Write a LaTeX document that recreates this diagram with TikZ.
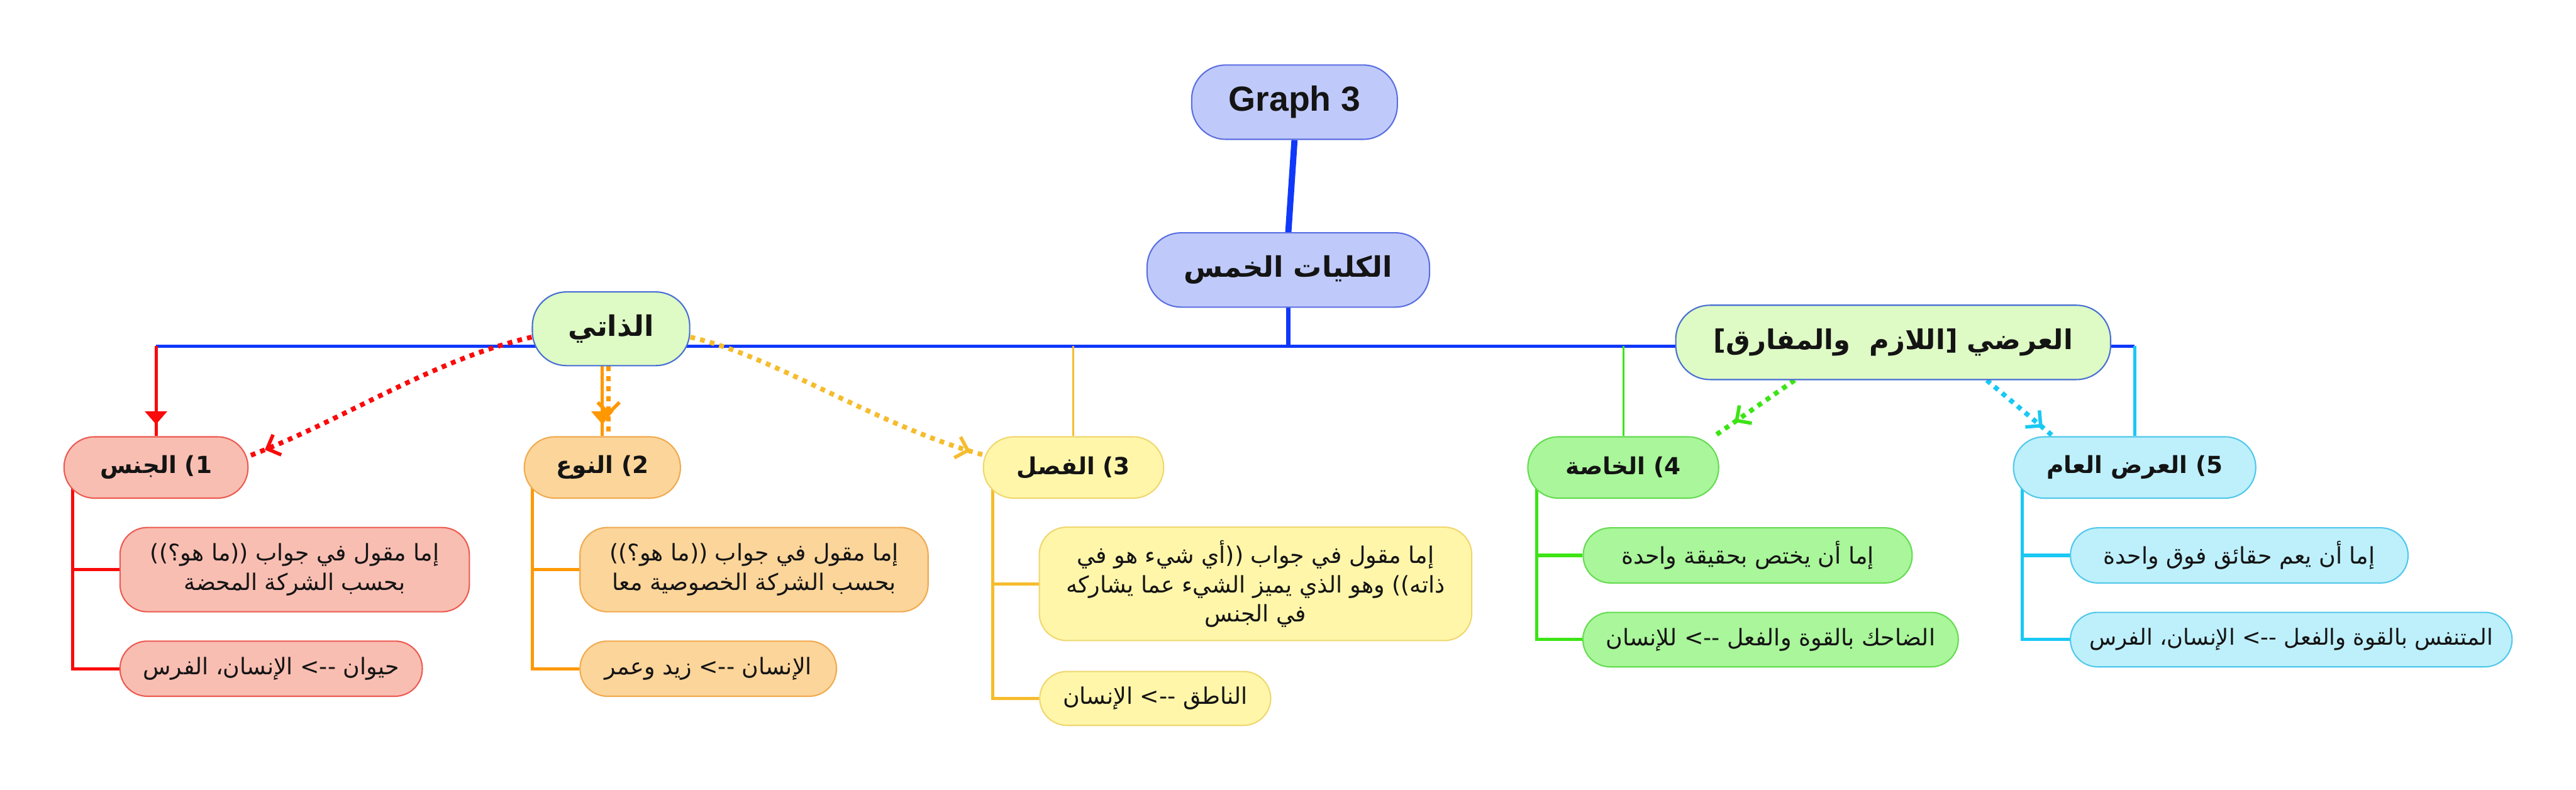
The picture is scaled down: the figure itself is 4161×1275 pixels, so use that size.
\documentclass[tikz,border=0pt]{standalone}
\usepackage{fontspec}
\setmainfont{DejaVu Sans}
\newfontfamily\arabicfont[Script=Arabic]{DejaVu Sans}
\newfontfamily\graphfont{Liberation Sans}
\TeXXeTstate=1
\usetikzlibrary{arrows.meta,backgrounds,calc,decorations.markings}
\newcommand\AR[1]{{\arabicfont\beginR #1\endR}}
\definecolor{busblue}{RGB}{16,56,250}
\definecolor{topfill}{RGB}{192,202,250}
\definecolor{topdraw}{RGB}{90,110,225}
\definecolor{midfill}{RGB}{222,250,197}
\definecolor{middraw}{RGB}{70,110,210}
\definecolor{redline}{RGB}{250,10,10}
\definecolor{redfill}{RGB}{249,190,178}
\definecolor{reddraw}{RGB}{236,90,80}
\definecolor{orgline}{RGB}{255,152,0}
\definecolor{orgfill}{RGB}{252,213,154}
\definecolor{orgdraw}{RGB}{240,170,80}
\definecolor{yelline}{RGB}{246,188,45}
\definecolor{yelfill}{RGB}{255,246,170}
\definecolor{yeldraw}{RGB}{240,215,110}
\definecolor{grnline}{RGB}{60,228,20}
\definecolor{grnfill}{RGB}{170,246,155}
\definecolor{grndraw}{RGB}{100,220,80}
\definecolor{cyaline}{RGB}{25,200,245}
\definecolor{cyafill}{RGB}{190,240,252}
\definecolor{cyadraw}{RGB}{80,200,235}
\begin{document}
\begin{tikzpicture}[x=0.01cm,y=-0.01cm,
  every node/.style={inner sep=0pt, align=center, text=black!92},
  topnode/.style={fill=topfill, draw=topdraw, line width=0.6pt, rounded corners=0.55cm,
    font=\fontsize{13}{16}\selectfont\bfseries},
  midnode/.style={fill=midfill, draw=middraw, line width=0.6pt, rounded corners=0.55cm,
    font=\fontsize{13}{16}\selectfont\bfseries},
  catnode/.style={line width=0.6pt, rounded corners=0.49cm, minimum height=0.99cm,
    font=\fontsize{10.8}{13}\selectfont\bfseries},
  kidnode/.style={line width=0.6pt, rounded corners=0.44cm,
    font=\fontsize{10.5}{13.4}\selectfont},
  busline/.style={draw=busblue, line width=1.45pt},
  branchline/.style={line width=1.45pt},
  droparrow/.style={postaction={decorate}, decoration={markings,
    mark=at position -0.19cm with {\arrow{Triangle[length=6pt,width=10pt]}}}},
  dotarrow/.style={line width=2.2pt, dash pattern=on 2.2pt off 2.4pt,
    postaction={decorate}, decoration={markings,
    mark=at position #1 with {\arrow[solid,line width=1.6pt]{Straight Barb[length=5pt,width=10pt]}}}}
]
\useasboundingbox (0,0) rectangle (4161,1275);

% top nodes
\node[topnode, minimum width=3.32cm, minimum height=1.2cm] (g3) at (2091,165) {\graphfont\bfseries\fontsize{16}{19}\selectfont Graph 3};
\node[topnode, minimum width=4.56cm, minimum height=1.2cm] (kul) at (2081,436) {\AR{الكليات الخمس}};
\node[midnode, minimum width=2.54cm, minimum height=1.19cm] (dhati) at (987,531) {\AR{الذاتي}};
\node[midnode, minimum width=7.02cm, minimum height=1.2cm, font=\fontsize{12.5}{15}\selectfont\bfseries] (arad) at (3058,553) {\AR{العرضي [اللازم~~والمفارق]}};

% categories
\node[catnode, fill=redfill, draw=reddraw, minimum width=2.97cm] (c1) at (252,755) {\AR{1) الجنس}};
\node[catnode, fill=orgfill, draw=orgdraw, minimum width=2.52cm] (c2) at (973,755) {\AR{2) النوع}};
\node[catnode, fill=yelfill, draw=yeldraw, minimum width=2.91cm] (c3) at (1734,755) {\AR{3) الفصل}};
\node[catnode, fill=grnfill, draw=grndraw, minimum width=3.08cm] (c4) at (2622,755) {\AR{4) الخاصة}};
\node[catnode, fill=cyafill, draw=cyadraw, minimum width=3.91cm] (c5) at (3448,755) {\AR{5) العرض العام}};

% children
\node[kidnode, fill=redfill, draw=reddraw, minimum width=5.64cm, minimum height=1.36cm] (c1a) at (476,920)
  {\AR{إما مقول في جواب ((ما هو؟))}\\\AR{بحسب الشركة المحضة}};
\node[kidnode, fill=redfill, draw=reddraw, minimum width=4.88cm, minimum height=0.89cm] (c1b) at (438,1080)
  {\AR{حيوان -{}-{}> الإنسان، الفرس}};
\node[kidnode, fill=orgfill, draw=orgdraw, minimum width=5.62cm, minimum height=1.36cm] (c2a) at (1218,920)
  {\AR{إما مقول في جواب ((ما هو؟))}\\\AR{بحسب الشركة الخصوصية معا}};
\node[kidnode, fill=orgfill, draw=orgdraw, minimum width=4.14cm, minimum height=0.89cm] (c2b) at (1144,1080)
  {\AR{الإنسان -{}-{}> زيد وعمر}};
\node[kidnode, fill=yelfill, draw=yeldraw, minimum width=6.98cm, minimum height=1.83cm] (c3a) at (2028,943)
  {\AR{إما مقول في جواب ((أي شيء هو في}\\\AR{ذاته)) وهو الذي يميز الشيء عما يشاركه}\\\AR{في الجنس}};
\node[kidnode, fill=yelfill, draw=yeldraw, minimum width=3.73cm, minimum height=0.87cm] (c3b) at (1866,1128)
  {\AR{الناطق -{}-{}> الإنسان}};
\node[kidnode, fill=grnfill, draw=grndraw, minimum width=5.31cm, minimum height=0.89cm] (c4a) at (2823,897)
  {\AR{إما أن يختص بحقيقة واحدة}};
\node[kidnode, fill=grnfill, draw=grndraw, minimum width=6.06cm, minimum height=0.88cm] (c4b) at (2860,1033)
  {\AR{الضاحك بالقوة والفعل -{}-{}> للإنسان}};
\node[kidnode, fill=cyafill, draw=cyadraw, minimum width=5.45cm, minimum height=0.89cm] (c5a) at (3617,897)
  {\AR{إما أن يعم حقائق فوق واحدة}};
\node[kidnode, fill=cyafill, draw=cyadraw, minimum width=7.13cm, minimum height=0.88cm, font=\fontsize{10.2}{13.4}\selectfont] (c5b) at (3701,1033)
  {\AR{المتنفس بالقوة والفعل -{}-{}> الإنسان، الفرس}};

\begin{scope}[on background layer]
  \fill[white] (0,0) rectangle (4161,1275);
  \coordinate (hub) at ($(kul.south)+(0,62)$);
  \draw[draw=busblue, line width=2.85pt] (g3.south) -- (kul.north);
  \draw[draw=busblue, line width=2pt] (kul.south) -- (hub);
  \draw[busline] (hub -| c1.north) -- (hub -| c5.north);
  % drops
  \draw[redline, line width=1.45pt, droparrow] (hub -| c1.north) -- (c1.north);
  \draw[orgline, line width=1.45pt, droparrow] (hub -| c2.north) -- (c2.north);
  \draw[yelline, line width=0.9pt] (hub -| c3.north) -- (c3.north);
  \draw[grnline, line width=0.9pt] (hub -| c4.north) -- (c4.north);
  \draw[cyaline, line width=1.45pt] (hub -| c5.north) -- (c5.north);
  % branches
  \draw[branchline, redline] ($(c1.west)+(15,0)$) |- (c1a.west);
  \draw[branchline, redline] ($(c1.west)+(15,0)$) |- (c1b.west);
  \draw[branchline, orgline] ($(c2.west)+(14,0)$) |- (c2a.west);
  \draw[branchline, orgline] ($(c2.west)+(14,0)$) |- (c2b.west);
  \draw[branchline, yelline] ($(c3.west)+(16,0)$) |- (c3a.west);
  \draw[branchline, yelline] ($(c3.west)+(16,0)$) |- (c3b.west);
  \draw[branchline, grnline] ($(c4.west)+(15,0)$) |- (c4a.west);
  \draw[branchline, grnline] ($(c4.west)+(15,0)$) |- (c4b.west);
  \draw[branchline, cyaline] ($(c5.west)+(15,0)$) |- (c5a.west);
  \draw[branchline, cyaline] ($(c5.west)+(15,0)$) |- (c5b.west);
  % dotted relations
  \draw[redline, dotarrow=-0.28cm] (dhati.186) .. controls +(-160,36) and +(152,-57) .. (c1.7);
  \draw[orgline, dotarrow=-0.33cm] ($(dhati.south)+(-4,0)$) -- ($(c2.north)+(10,0)$);
  \draw[yelline, dotarrow=-0.21cm] (dhati.354) .. controls +(135,30) and +(-168,-45) .. (c3.172);
  \draw[grnline, dotarrow=-0.4cm] (arad.201) -- (c4.19);
  \draw[cyaline, dotarrow=-0.22cm] (arad.338) -- (c5.159);
\end{scope}
\end{tikzpicture}
\end{document}
